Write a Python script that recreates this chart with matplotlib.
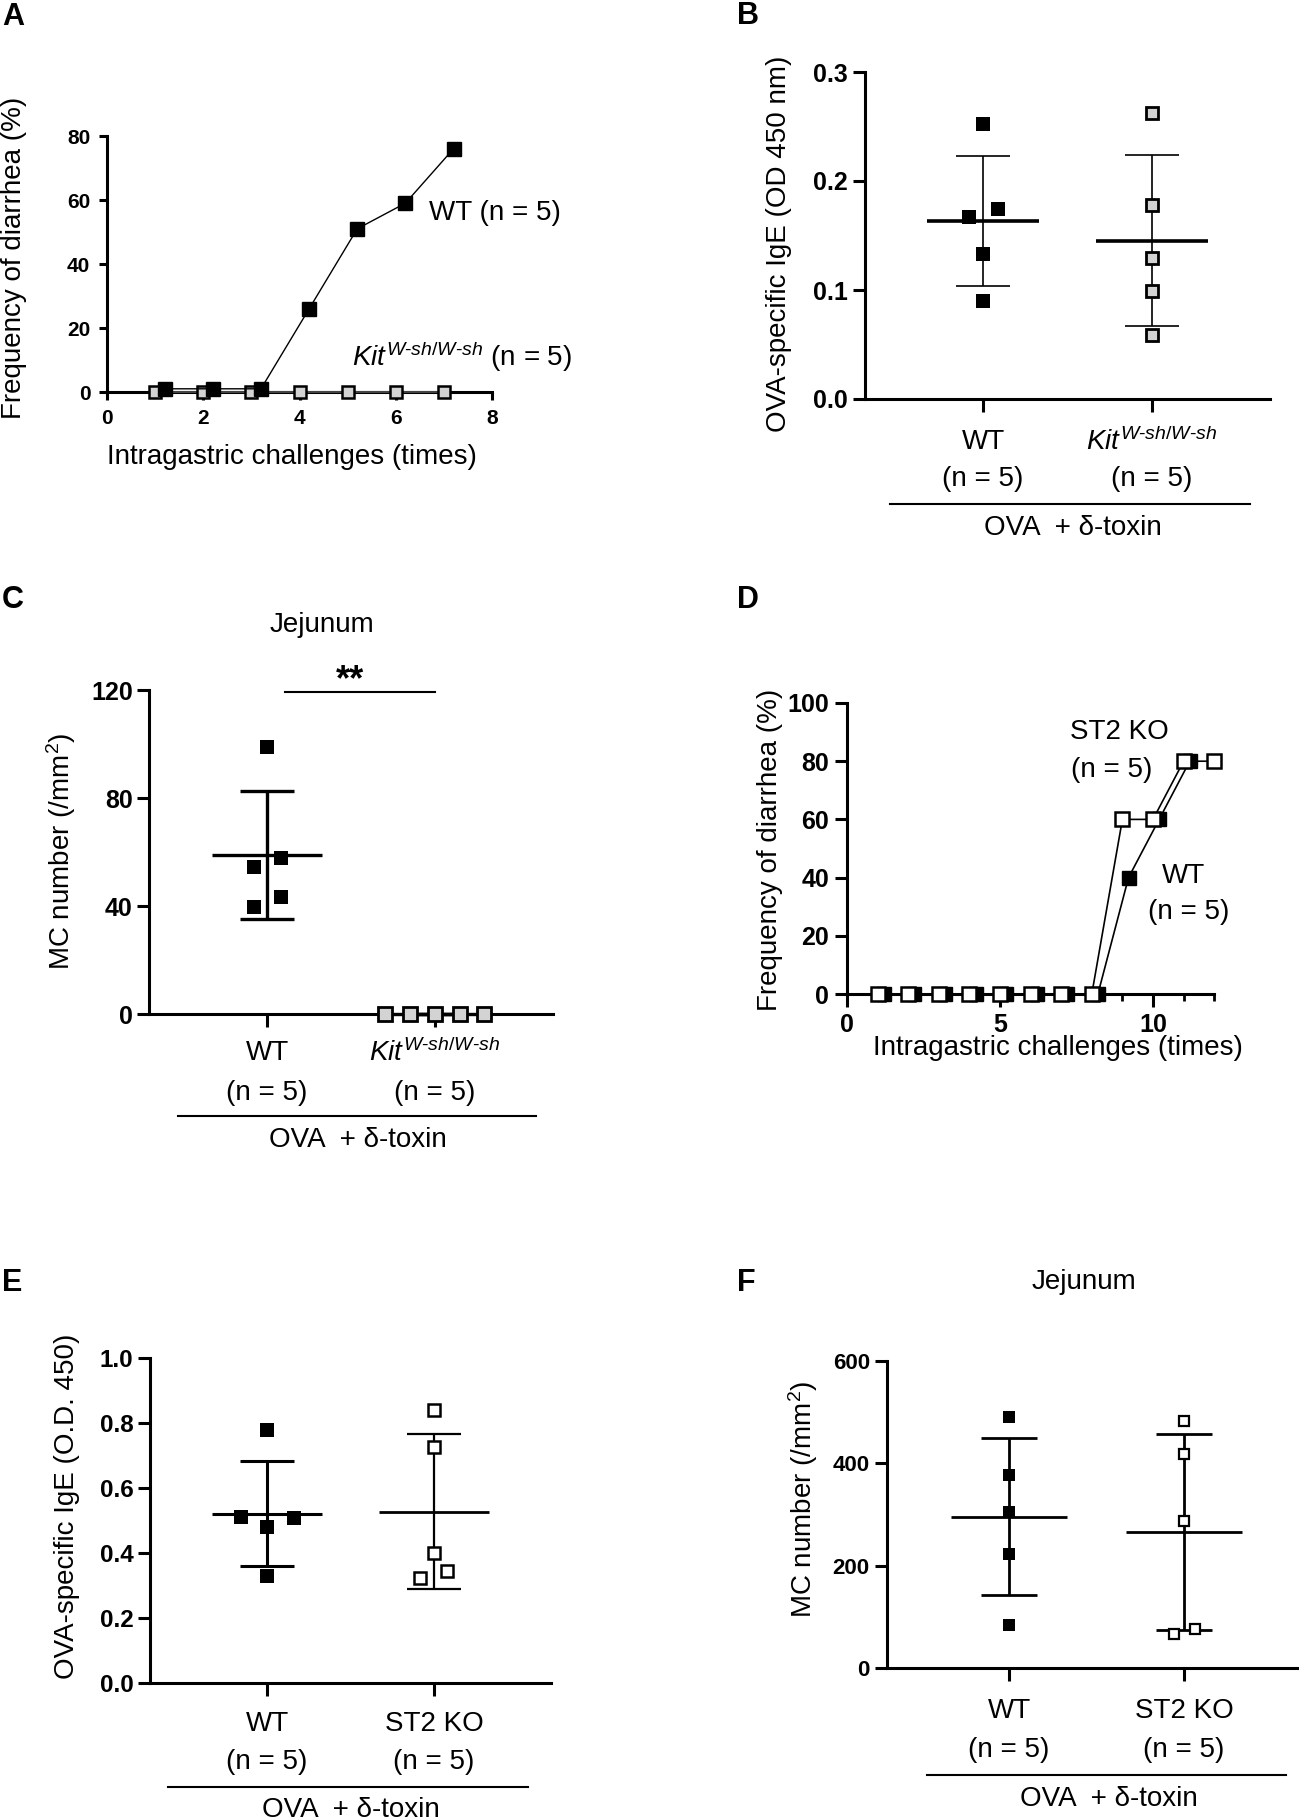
import numpy as np
import matplotlib
matplotlib.use("Agg")
import matplotlib.pyplot as plt
from matplotlib.transforms import blended_transform_factory as blend
from matplotlib.ticker import MultipleLocator

plt.rcParams['font.family'] = ['Liberation Sans', 'DejaVu Sans']
plt.rcParams['mathtext.fontset'] = 'custom'
plt.rcParams['mathtext.rm'] = 'Liberation Sans'
plt.rcParams['mathtext.it'] = 'Liberation Sans:italic'
plt.rcParams['mathtext.bf'] = 'Liberation Sans:bold'

W, H = 1299, 1818
GRAY = '#d3d3d3'

# ---- data ----
# A: diarrhea frequency, WT vs Kit
a_times_wt = [1.2, 2.2, 3.2, 4.2, 5.2, 6.2, 7.2]
a_freq_wt = [1, 1, 1, 26, 51, 59, 76]
a_times_kit = [1, 2, 3, 4, 5, 6, 7]
a_freq_kit = [0, 0, 0, 0, 0, 0, 0]

# B: OVA-specific IgE
b_wt = [0.252, 0.167, 0.174, 0.133, 0.090]
b_kit = [0.262, 0.178, 0.129, 0.099, 0.059]
b_wt_jit = [0, -0.08, 0.086, 0, 0]
b_kit_jit = [0, 0, 0, 0, 0]

# C: MC number jejunum
c_wt = [99.0, 54.4, 57.8, 39.6, 43.3]
c_kit = [0, 0, 0, 0, 0]
c_wt_jit = [0, -0.08, 0.082, -0.08, 0.082]
c_kit_jit = [-0.3, -0.15, 0, 0.15, 0.29]

# D: diarrhea frequency, WT vs ST2 KO
d_times_wt = [1.2, 2.2, 3.2, 4.2, 5.2, 6.2, 7.2, 8.2, 9.2, 10.2, 11.2]
d_freq_wt = [0, 0, 0, 0, 0, 0, 0, 0, 40, 60, 80]
d_times_st2 = [1, 2, 3, 4, 5, 6, 7, 8, 9, 10, 11, 12]
d_freq_st2 = [0, 0, 0, 0, 0, 0, 0, 0, 60, 60, 80, 80]

# E: OVA-specific IgE, ST2 KO
e_wt = [0.778, 0.511, 0.479, 0.508, 0.328]
e_st2 = [0.840, 0.727, 0.401, 0.345, 0.322]
e_wt_jit = [0, -0.155, 0, 0.162, 0]
e_st2_jit = [0, 0, 0, 0.078, -0.082]

# F: MC number jejunum, ST2 KO
f_wt = [490, 377, 304, 223, 85]
f_st2 = [482, 419, 287, 66, 76]
f_wt_jit = [0, 0, 0, 0, 0]
f_st2_jit = [0, 0, 0, -0.06, 0.064]

fig = plt.figure(figsize=(W / 100, H / 100), dpi=100)
fig.patch.set_facecolor('white')


def fy(ypx):
    return 1 - ypx / H


def make_ax(xpx, xv, ypx, yv, xlim, ylim):
    kx = (xpx[1] - xpx[0]) / (xv[1] - xv[0])
    ky = (ypx[1] - ypx[0]) / (yv[1] - yv[0])
    left = xpx[0] + (xlim[0] - xv[0]) * kx
    right = xpx[0] + (xlim[1] - xv[0]) * kx
    bottom = ypx[0] + (ylim[0] - yv[0]) * ky
    top = ypx[0] + (ylim[1] - yv[0]) * ky
    ax = fig.add_axes([left / W, 1 - bottom / H, (right - left) / W, (bottom - top) / H])
    ax.set_xlim(*xlim)
    ax.set_ylim(*ylim)
    for s in ['top', 'right']:
        ax.spines[s].set_visible(False)
    for s in ['left', 'bottom']:
        ax.spines[s].set_linewidth(2.2)
    ax.patch.set_alpha(0)
    return ax


def style_ticks(ax, size, length=9, pad=3):
    ax.tick_params(axis='both', which='major', length=length, width=2.2,
                   labelsize=size, pad=pad)
    for lab in ax.get_xticklabels() + ax.get_yticklabels():
        lab.set_fontweight('bold')


def mean_sd(ax, x, vals, mlw=2.2, slw=1.6, mhalf=0.33, chalf=0.16):
    m = np.mean(vals)
    s = np.std(vals, ddof=1)
    kw = dict(color='black', solid_capstyle='butt', zorder=3, clip_on=False)
    ax.plot([x - mhalf, x + mhalf], [m, m], lw=mlw, **kw)
    ax.plot([x, x], [m - s, m + s], lw=slw, **kw)
    ax.plot([x - chalf, x + chalf], [m + s, m + s], lw=slw, **kw)
    ax.plot([x - chalf, x + chalf], [m - s, m - s], lw=slw, **kw)


def scatter_group(ax, x, vals, jit, face, ms=9, mew=1.8):
    xs = [x + j for j in jit]
    ax.plot(xs, vals, ls='none', marker='s', ms=ms, mfc=face, mec='black',
            mew=mew, zorder=5, clip_on=False)


def cat_labels(ax, names, ys, line_y, line_x, ova_y, ova_x=0.53, size=20):
    tr = blend(ax.transData, fig.transFigure)
    for i, name in enumerate(names):
        ax.text(i, fy(ys[0]), name, transform=tr, ha='center', va='center', fontsize=size)
        ax.text(i, fy(ys[1]), '(n = 5)', transform=tr, ha='center', va='center', fontsize=size)
    ax.plot(line_x, [fy(line_y)] * 2, transform=tr, color='black', lw=1.5, clip_on=False)
    ax.text(ova_x, fy(ova_y), 'OVA  + δ-toxin', transform=tr, ha='center', va='center',
            fontsize=size)
    ax.set_xticks([0, 1])
    ax.set_xticklabels([])


KIT = r'$\mathit{Kit}^{W\text{-}sh/W\text{-}sh}$'

# ---------------- A ----------------
ax = make_ax((107, 492), (0, 8), (392, 136), (0, 80), (0, 8), (0, 80))
ax.plot(a_times_kit, a_freq_kit, color='#444444', lw=1.5, marker='s', ms=9, mfc=GRAY,
        mec='black', mew=1.8, zorder=4, clip_on=False)
ax.plot(a_times_wt, a_freq_wt, color='black', lw=1.0, marker='s', ms=10, mfc='black',
        mec='black', zorder=5, clip_on=False)
ax.set_xticks([0, 2, 4, 6, 8])
ax.set_yticks([0, 20, 40, 60, 80])
style_ticks(ax, 15, length=6, pad=6)
ax.text(6.69, 56, 'WT (n = 5)', ha='left', va='center', fontsize=20)
ax.text(5.09, 11, KIT + ' (n = 5)', ha='left', va='center', fontsize=20)
fig.text(292 / W, fy(457), 'Intragastric challenges (times)', ha='center', va='center',
         fontsize=20)
fig.text(14 / W, fy(258), 'Frequency of diarrhea (%)', rotation=90, ha='center',
         va='center', fontsize=20)

# ---------------- B ----------------
ax = make_ax((983, 1152), (0, 1), (399, 72), (0, 0.3), (-0.7, 1.7), (0, 0.3))
mean_sd(ax, 0, b_wt, mlw=2.6, slw=1.2)
mean_sd(ax, 1, b_kit, mlw=2.6, slw=1.2)
scatter_group(ax, 0, b_wt, b_wt_jit, 'black', ms=10, mew=0)
scatter_group(ax, 1, b_kit, b_kit_jit, GRAY, ms=9, mew=2)
ax.set_yticks([0.0, 0.1, 0.2, 0.3])
ax.set_yticklabels(['0.0', '0.1', '0.2', '0.3'])
style_ticks(ax, 18)
cat_labels(ax, ['WT', KIT], (442, 479), 504, (-0.55, 1.58), 528)
fig.text(779 / W, fy(244), 'OVA-specific IgE (OD 450 nm)', rotation=90, ha='center',
         va='center', fontsize=20)

# ---------------- C ----------------
ax = make_ax((267, 435), (0, 1), (1014, 690), (0, 120), (-0.7, 1.7), (0, 120))
mean_sd(ax, 0, c_wt, mlw=2.4, slw=2.4)
mean_sd(ax, 1, c_kit, mlw=2.4, slw=2.4)
scatter_group(ax, 0, c_wt, c_wt_jit, 'black', ms=10, mew=0)
scatter_group(ax, 1, c_kit, c_kit_jit, GRAY, ms=10, mew=2)
ax.set_yticks([0, 40, 80, 120])
style_ticks(ax, 18)
cat_labels(ax, ['WT', KIT], (1053, 1093), 1116, (-0.53, 1.6), 1140, ova_x=0.54)
ax.plot([0.107, 1.0], [119.3, 119.3], color='black', lw=1.5, clip_on=False)
ax.text(0.494, 119.8, '**', ha='center', va='baseline', fontsize=26, fontweight='bold')
ax.text(0.33, fy(625), 'Jejunum', transform=blend(ax.transData, fig.transFigure),
        ha='center', va='center', fontsize=20)
fig.text(61 / W, fy(851), 'MC number (/mm$^{2}$)', rotation=90, ha='center',
         va='center', fontsize=20)

# ---------------- D ----------------
ax = make_ax((847, 1153), (0, 10), (994, 703), (0, 100), (0, 12), (0, 100))
ax.plot(d_times_wt, d_freq_wt, color='black', lw=1.2, marker='s', ms=10, mfc='black',
        mec='black', zorder=4, clip_on=False)
ax.plot(d_times_st2, d_freq_st2, color='black', lw=1.2, marker='s', ms=9.5, mfc='white',
        mec='black', mew=1.8, zorder=5, clip_on=False)
ax.set_xticks([0, 5, 10])
ax.xaxis.set_minor_locator(MultipleLocator(1))
ax.tick_params(axis='x', which='minor', length=5, width=2)
ax.set_yticks([0, 20, 40, 60, 80, 100])
style_ticks(ax, 18, pad=4)
ax.tick_params(axis='x', which='major', pad=5)
ax.text(8.89, 90, 'ST2 KO', ha='center', va='center', fontsize=20)
ax.text(8.66, 77, '(n = 5)', ha='center', va='center', fontsize=20)
ax.text(11.01, 40.5, 'WT', ha='center', va='center', fontsize=20)
ax.text(11.18, 28.2, '(n = 5)', ha='center', va='center', fontsize=20)
fig.text(1058 / W, fy(1048), 'Intragastric challenges (times)', ha='center', va='center',
         fontsize=20)
fig.text(770 / W, fy(850), 'Frequency of diarrhea (%)', rotation=90, ha='center',
         va='center', fontsize=20)

# ---------------- E ----------------
ax = make_ax((267, 434), (0, 1), (1683, 1358), (0, 1), (-0.7, 1.7), (0, 1))
mean_sd(ax, 0, e_wt, mlw=2.2, slw=2.2)
mean_sd(ax, 1, e_st2, mlw=2.0, slw=1.6)
scatter_group(ax, 0, e_wt, e_wt_jit, 'black', ms=9.5, mew=0)
scatter_group(ax, 1, e_st2, e_st2_jit, 'white', ms=8, mew=1.8)
ax.set_yticks([0.0, 0.2, 0.4, 0.6, 0.8, 1.0])
ax.set_yticklabels(['0.0', '0.2', '0.4', '0.6', '0.8', '1.0'])
style_ticks(ax, 17.5)
cat_labels(ax, ['WT', 'ST2 KO'], (1724, 1762), 1787, (-0.59, 1.56), 1810, ova_x=0.5)
fig.text(67 / W, fy(1506), 'OVA-specific IgE (O.D. 450)', rotation=90, ha='center',
         va='center', fontsize=20)

# ---------------- F ----------------
ax = make_ax((1009, 1184), (0, 1), (1668, 1361), (0, 600), (-0.7, 1.8), (0, 600))
mean_sd(ax, 0, f_wt, mlw=2.0, slw=2.0)
mean_sd(ax, 1, f_st2, mlw=2.0, slw=2.0)
scatter_group(ax, 0, f_wt, f_wt_jit, 'black', ms=8, mew=0)
scatter_group(ax, 1, f_st2, f_st2_jit, 'white', ms=7, mew=1.6)
ax.set_yticks([0, 200, 400, 600])
style_ticks(ax, 16)
cat_labels(ax, ['WT', 'ST2 KO'], (1711, 1750), 1775, (-0.47, 1.58), 1799, ova_x=0.57)
ax.text(0.43, fy(1282), 'Jejunum', transform=blend(ax.transData, fig.transFigure),
        ha='center', va='center', fontsize=20)
fig.text(803 / W, fy(1499), 'MC number (/mm$^{2}$)', rotation=90, ha='center',
         va='center', fontsize=20)

# panel letters
for letter, xp, yp in [('A', 2, 17), ('B', 748, 16), ('C', 2, 600),
                       ('D', 748, 600), ('E', 2, 1283), ('F', 746, 1283)]:
    fig.text(xp / W, fy(yp), letter, ha='left' if xp < 100 else 'center', va='center',
             fontsize=22, fontweight='bold')

fig.savefig('out.png', dpi=100, facecolor='white')
